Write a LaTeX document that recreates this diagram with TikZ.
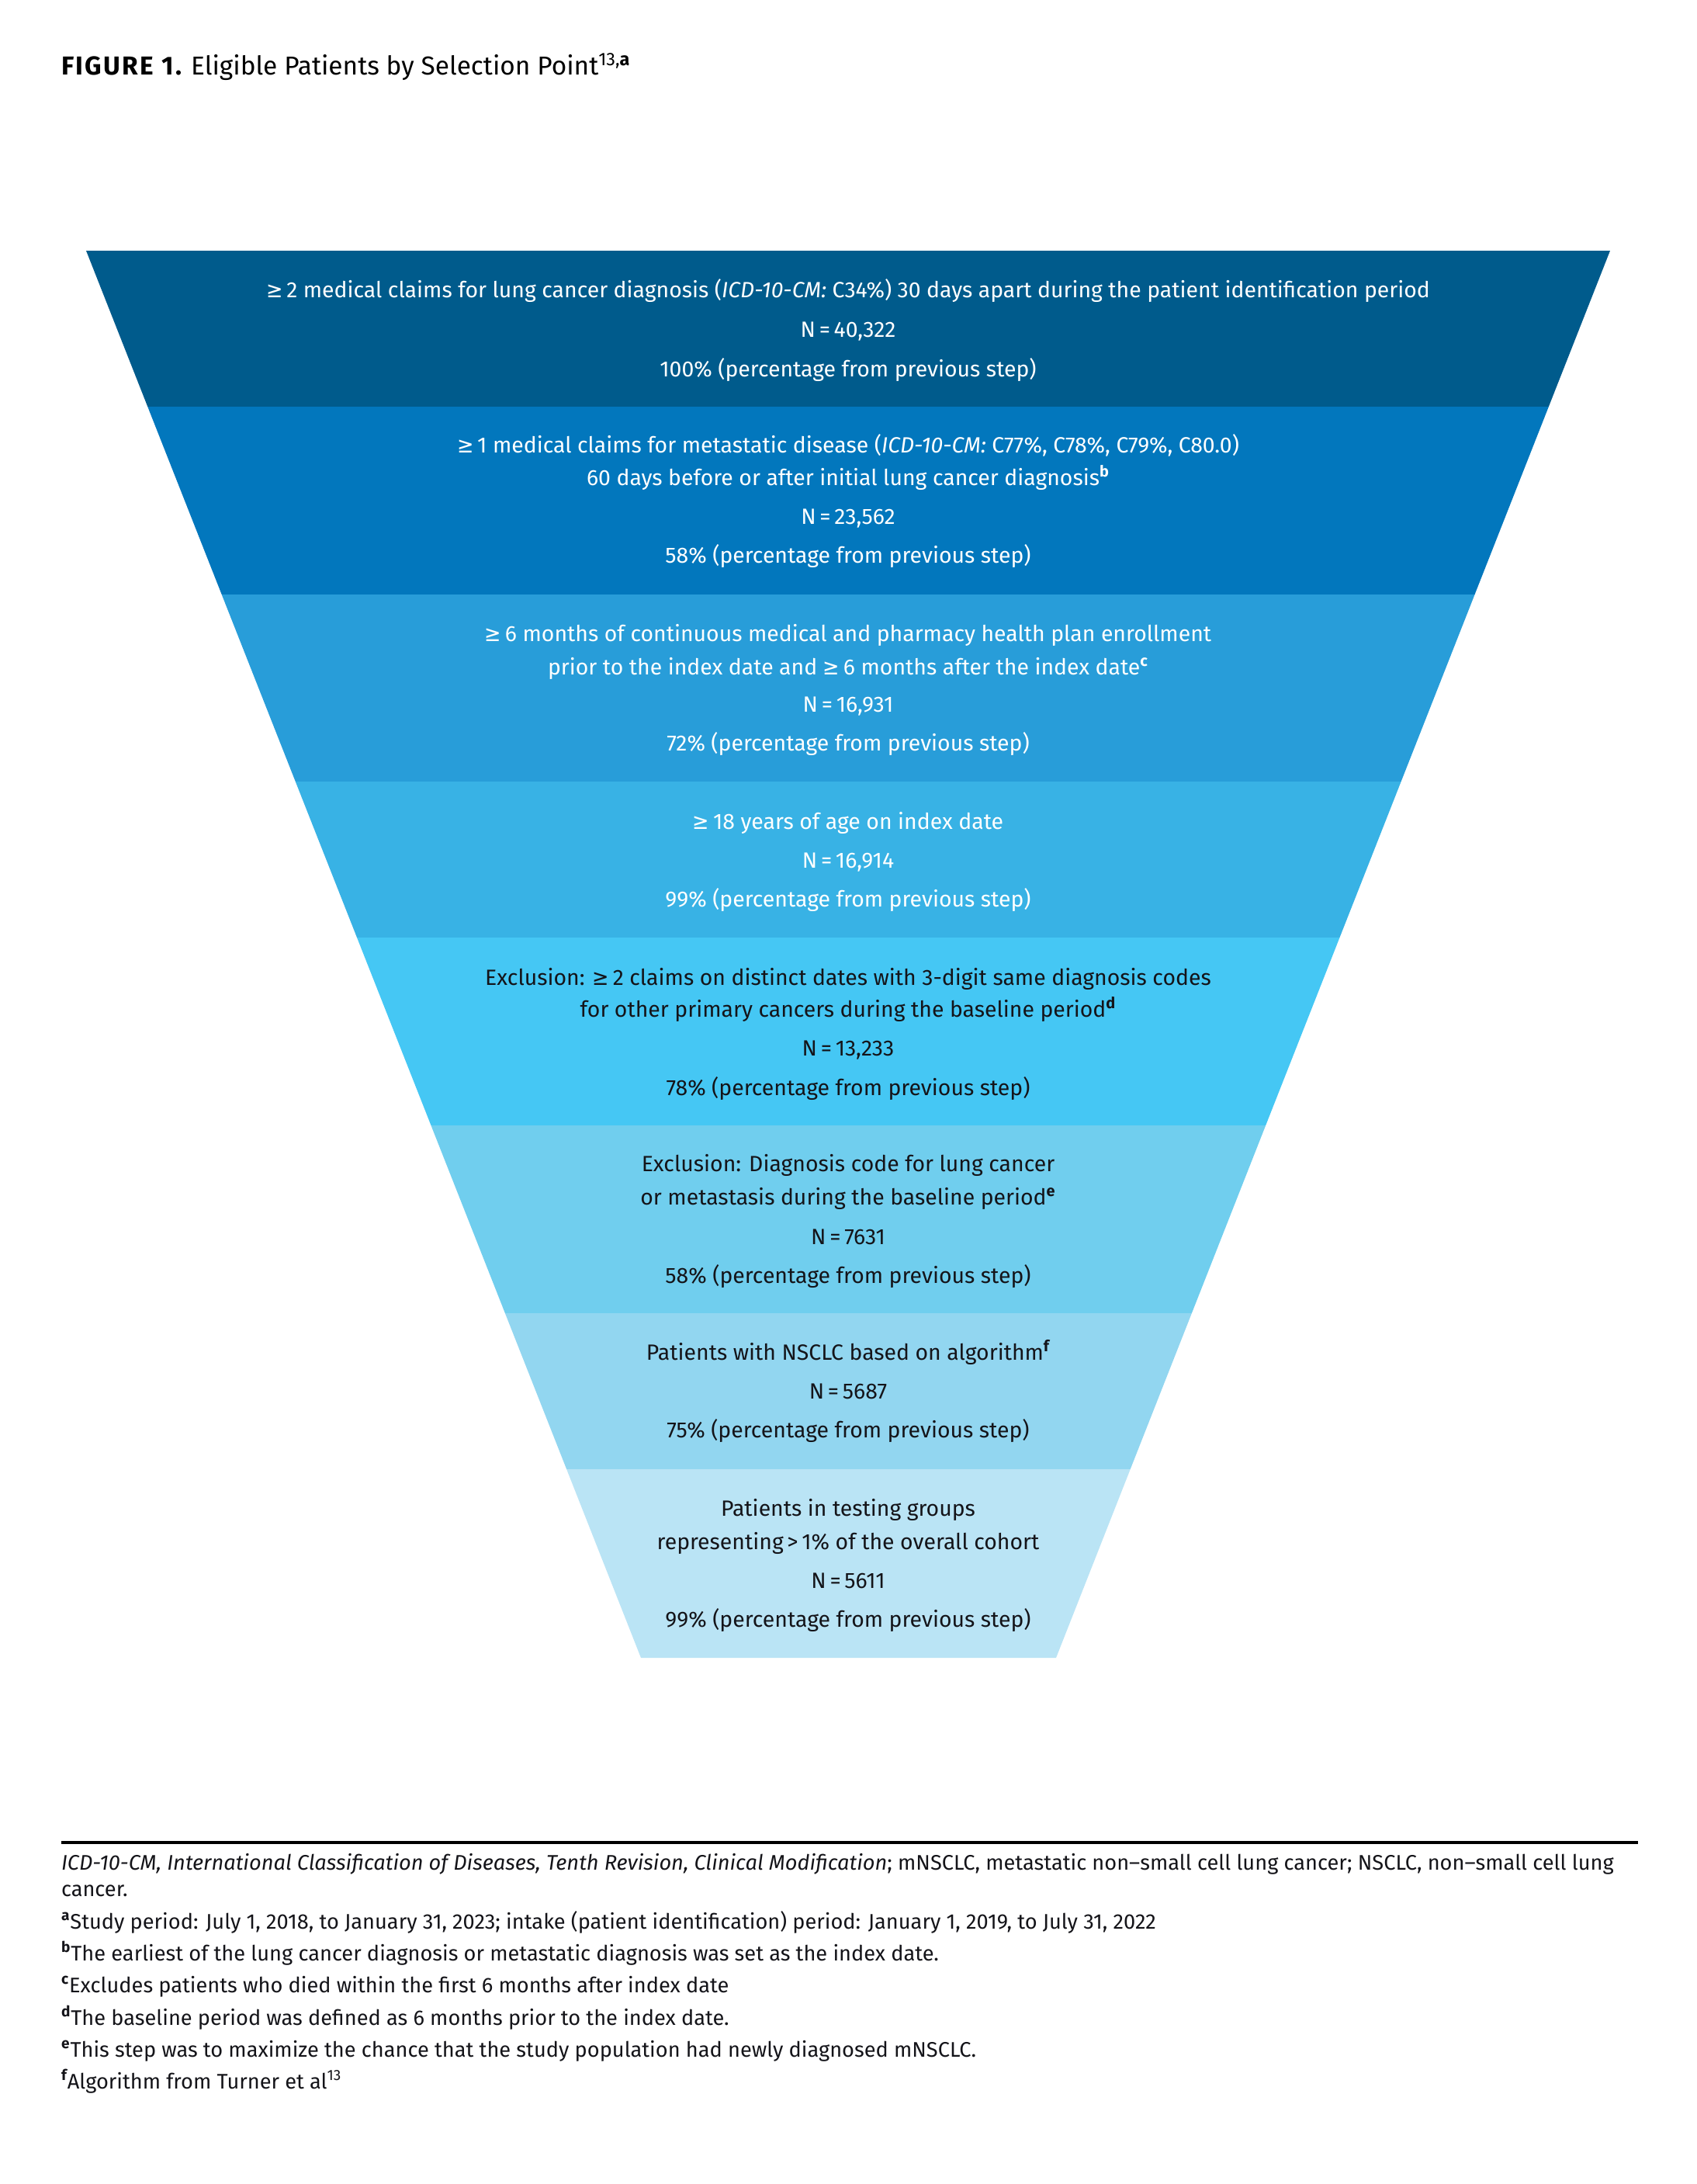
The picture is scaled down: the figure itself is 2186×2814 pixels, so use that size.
\documentclass[tikz,border=0pt]{standalone}
\usepackage{fontspec}
\setmainfont{Fira Sans}
\newfontfamily\symf{DejaVu Sans}[FakeStretch=0.9]
\definecolor{bandA}{RGB}{0,91,140}
\definecolor{bandB}{RGB}{2,119,189}
\definecolor{bandC}{RGB}{40,157,217}
\definecolor{bandD}{RGB}{56,178,229}
\definecolor{bandE}{RGB}{69,199,244}
\definecolor{bandF}{RGB}{112,206,238}
\definecolor{bandG}{RGB}{146,214,240}
\definecolor{bandH}{RGB}{186,228,245}
\definecolor{txtdark}{RGB}{20,20,25}
\newcommand{\gtesym}{{\symf ≥}}
\newcommand{\fnm}[1]{\textsuperscript{\bfseries #1}}
\begin{document}
\begin{tikzpicture}[x=0.5pt,y=-0.5pt,
  every node/.style={inner sep=0pt, outer sep=0pt},
  bandtxt/.style={anchor=base, font=\fontsize{14.2}{17}\selectfont},
  wt/.style={bandtxt, text=white},
  bk/.style={bandtxt, text=txtdark},
  foot/.style={anchor=base west, text=txtdark, font=\fontsize{13.6}{16}\selectfont}]
\useasboundingbox (0,0) rectangle (2186,2814);
\fill[white] (0,0) rectangle (2186,2814);

% title
\node[anchor=base west, font=\fontsize{16.7}{20}\selectfont] (title) at (79,97)
  {{\bfseries\addfontfeature{LetterSpace=7}FIGURE 1.} Eligible Patients by Selection Point\textsuperscript{13,\bfseries a}};

% funnel
\begin{scope}
\clip (111,323) -- (2075,323) -- (1361,2136) -- (826,2136) -- cycle;
\fill[bandA] (0,323) rectangle (2186,524);
\fill[bandB] (0,524) rectangle (2186,766);
\fill[bandC] (0,766) rectangle (2186,1007);
\fill[bandD] (0,1007) rectangle (2186,1208);
\fill[bandE] (0,1208) rectangle (2186,1450);
\fill[bandF] (0,1450) rectangle (2186,1692);
\fill[bandG] (0,1692) rectangle (2186,1893);
\fill[bandH] (0,1893) rectangle (2186,2137);
\end{scope}

% band 1
\node[wt] (a1) at (1093,384) {\gtesym\,2 medical claims for lung cancer diagnosis (\textit{ICD-10-CM:} C34\%) 30 days apart during the patient identification period};
\node[wt] (a2) at (1093,434) {N\,=\,40,322};
\node[wt] (a3) at (1093,485) {100\% (percentage from previous step)};
% band 2
\node[wt] (b1) at (1093,583) {\gtesym\,1 medical claims for metastatic disease (\textit{ICD-10-CM:} C77\%, C78\%, C79\%, C80.0)};
\node[wt] (b2) at (1093,625) {60 days before or after initial lung cancer diagnosis\fnm{b}};
\node[wt] (b3) at (1093,675) {N\,=\,23,562};
\node[wt] (b4) at (1093,725) {58\% (percentage from previous step)};
% band 3
\node[wt] (c1) at (1093,826) {\gtesym\,6 months of continuous medical and pharmacy health plan enrollment};
\node[wt] (c2) at (1093,869) {prior to the index date and \gtesym\,6 months after the index date\fnm{c}};
\node[wt] (c3) at (1093,917) {N\,=\,16,931};
\node[wt] (c4) at (1093,967) {72\% (percentage from previous step)};
% band 4
\node[wt] (d1) at (1093,1068) {\gtesym\,18 years of age on index date};
\node[wt] (d2) at (1093,1118) {N\,=\,16,914};
\node[wt] (d3) at (1093,1168) {99\% (percentage from previous step)};
% band 5
\node[bk] (e1) at (1093,1269) {Exclusion: \gtesym\,2 claims on distinct dates with 3-digit same diagnosis codes};
\node[bk] (e2) at (1093,1310) {for other primary cancers during the baseline period\fnm{d}};
\node[bk] (e3) at (1093,1360) {N\,=\,13,233};
\node[bk] (e4) at (1093,1411) {78\% (percentage from previous step)};
% band 6
\node[bk] (f1) at (1093,1509) {Exclusion: Diagnosis code for lung cancer};
\node[bk] (f2) at (1093,1552) {or metastasis during the baseline period\fnm{e}};
\node[bk] (f3) at (1093,1603) {N\,=\,7631};
\node[bk] (f4) at (1093,1653) {58\% (percentage from previous step)};
% band 7
\node[bk] (g1) at (1093,1752) {Patients with NSCLC based on algorithm\fnm{f}};
\node[bk] (g2) at (1093,1802) {N\,=\,5687};
\node[bk] (g3) at (1093,1852) {75\% (percentage from previous step)};
% band 8
\node[bk] (h1) at (1093,1953) {Patients in testing groups};
\node[bk] (h2) at (1093,1996) {representing\,>\,1\% of the overall cohort};
\node[bk] (h3) at (1093,2046) {N\,=\,5611};
\node[bk] (h4) at (1093,2096) {99\% (percentage from previous step)};

% rule
\coordinate (ruleL) at (79,2374);
\coordinate (ruleR) at (2111,2374);
\draw[line width=2pt, black] (ruleL) -- (ruleR);

% footnotes
\node[foot] (n0) at (79,2409) {\textit{ICD-10-CM, International Classification of Diseases, Tenth Revision, Clinical Modification}; mNSCLC, metastatic non--small cell lung cancer; NSCLC, non--small cell lung};
\node[foot] (n0b) at (79,2443) {cancer.};
\node[foot] (na) at (79,2485) {\fnm{a}Study period: July 1, 2018, to January 31, 2023; intake (patient identification) period: January 1, 2019, to July 31, 2022};
\node[foot] (nb) at (79,2526) {\fnm{b}The earliest of the lung cancer diagnosis or metastatic diagnosis was set as the index date.};
\node[foot] (nc) at (79,2567) {\fnm{c}Excludes patients who died within the first 6 months after index date};
\node[foot] (nd) at (79,2609) {\fnm{d}The baseline period was defined as 6 months prior to the index date.};
\node[foot] (ne) at (79,2650) {\fnm{e}This step was to maximize the chance that the study population had newly diagnosed mNSCLC.};
\node[foot] (nf) at (79,2691) {\fnm{f}Algorithm from Turner et al\textsuperscript{13}};
\end{tikzpicture}
\end{document}
